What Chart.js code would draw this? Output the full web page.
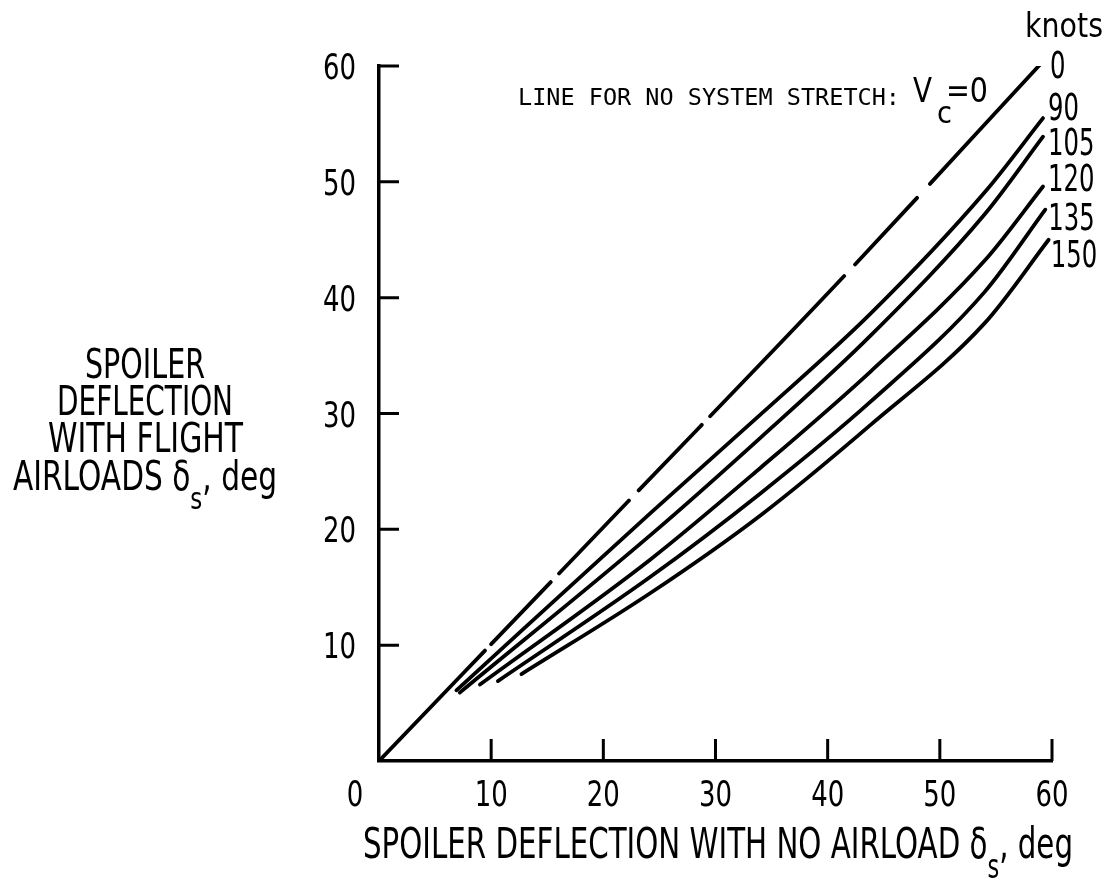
<!DOCTYPE html>
<html>
<head>
<meta charset="utf-8">
<script src="https://cdn.jsdelivr.net/npm/chart.js@4.4.1/dist/chart.umd.min.js"></script>
<style>
  html, body { margin: 0; background: #fff; }
  #wrap { width: 1111px; height: 879px; }
</style>
</head>
<body>
<div id="wrap"><canvas id="chart"></canvas></div>
<script>
// airspeed of each curve, knots
const speeds = ['0', '90', '105', '120', '135', '150'];

// spoiler deflection with no airload (x) and with flight airloads (y), deg
const noLoad0 = [0, 22.3, 41.5, 59.1];
const flight0 = [0, 22.5, 41.9, 60.3];

const noLoad90 = [6.9, 24.2, 34.0, 43.8, 54.0, 59.2];
const flight90 = [6.1, 21.4, 29.9, 38.6, 49.1, 55.5];

const noLoad105 = [7.2, 24.2, 34.0, 43.8, 54.0, 59.2];
const flight105 = [5.9, 19.5, 27.9, 36.7, 47.2, 53.9];

const noLoad120 = [9.0, 24.2, 34.0, 43.8, 54.0, 59.2];
const flight120 = [6.6, 17.4, 25.3, 33.6, 43.2, 49.6];

const noLoad135 = [10.6, 24.2, 34.0, 43.8, 54.0, 59.4];
const flight135 = [6.9, 15.9, 23.1, 31.0, 40.5, 47.6];

const noLoad150 = [12.7, 24.2, 34.0, 43.8, 54.0, 59.7];
const flight150 = [7.5, 14.5, 21.2, 29.0, 37.8, 45.0];

const axisTicks = [0, 10, 20, 30, 40, 50, 60];

const curves = [
  [noLoad0, flight0], [noLoad90, flight90], [noLoad105, flight105],
  [noLoad120, flight120], [noLoad135, flight135], [noLoad150, flight150]
];

const SANS = '"DejaVu Sans", sans-serif';
const font = size => `${size}px ${SANS}`;

// draws a run of text pieces [text, size, dy] squeezed to a given width
function drawRich(ctx, parts, left, baseline, width) {
  let natural = 0;
  parts.forEach(p => { ctx.font = font(p[1]); natural += ctx.measureText(p[0]).width; });
  const k = width ? width / natural : 1;
  ctx.save();
  ctx.translate(left, baseline);
  ctx.scale(k, 1);
  let cx = 0;
  parts.forEach(p => {
    ctx.font = font(p[1]);
    ctx.fillText(p[0], cx, p[2] || 0);
    cx += ctx.measureText(p[0]).width;
  });
  ctx.restore();
}

const DIGIT_W = 16.5;

// where each speed label sits relative to the end of its curve
const labelNudge = [[8, 15], [5, 2], [5, 18], [5, 5], [3, 20], [2, 27]];

const annotate = {
  id: 'annotate',
  afterDraw(chart) {
    const { ctx, chartArea: a, scales: { x, y } } = chart;
    ctx.save();

    // inward tick marks
    ctx.strokeStyle = '#000';
    ctx.lineWidth = 3;
    ctx.beginPath();
    x.ticks.forEach(t => {
      if (t.value === 0) return;
      const px = x.getPixelForValue(t.value);
      ctx.moveTo(px, a.bottom);
      ctx.lineTo(px, a.bottom - 22);
    });
    y.ticks.forEach(t => {
      if (t.value === 0) return;
      const py = y.getPixelForValue(t.value);
      ctx.moveTo(a.left, py);
      ctx.lineTo(a.left + 20, py);
    });
    ctx.stroke();

    ctx.fillStyle = '#000';
    ctx.textBaseline = 'alphabetic';
    ctx.textAlign = 'left';

    // tick labels in narrow lettering
    x.ticks.forEach(t => {
      const s = String(t.value);
      const w = s.length * DIGIT_W;
      const px = t.value === 0 ? a.left - 24 : x.getPixelForValue(t.value);
      drawRich(ctx, [[s, 36]], px - w / 2, a.bottom + 45, w);
    });
    y.ticks.forEach(t => {
      if (t.value === 0) return;
      const s = String(t.value);
      const w = s.length * DIGIT_W;
      drawRich(ctx, [[s, 36]], a.left - 23 - w, y.getPixelForValue(t.value) + 13, w);
    });

    // speed labels at the curve ends
    speeds.forEach((s, i) => {
      const pts = chart.getDatasetMeta(i).data;
      const end = pts[pts.length - 1];
      drawRich(ctx, [[s, 37]], end.x + labelNudge[i][0], end.y + labelNudge[i][1], s.length * 15.5);
    });
    drawRich(ctx, [['knots', 33]], 1025, 37, 78);

    // reference line note
    ctx.font = '23.5px "DejaVu Sans Mono", monospace';
    ctx.save();
    ctx.translate(518, 105);
    ctx.scale(382 / ctx.measureText('LINE FOR NO SYSTEM STRETCH:').width, 1);
    ctx.fillText('LINE FOR NO SYSTEM STRETCH:', 0, 0);
    ctx.restore();
    drawRich(ctx, [['V', 34]], 913, 102, 19);
    drawRich(ctx, [['c', 30]], 937, 123, 15);
    drawRich(ctx, [['=0', 34]], 946, 102, 42);

    // x axis title
    drawRich(ctx, [['SPOILER DEFLECTION WITH NO AIRLOAD δ', 43], ['s', 33, 20], [', deg', 43]],
      363, 858, 710);

    // y axis title, stacked horizontally
    const cx = 145;
    drawRich(ctx, [['SPOILER', 40]], cx - 60, 378, 120);
    drawRich(ctx, [['DEFLECTION', 40]], cx - 88, 415, 176);
    drawRich(ctx, [['WITH FLIGHT', 40]], cx - 97, 452, 195);
    drawRich(ctx, [['AIRLOADS δ', 40], ['s', 31, 19], [', deg', 40]], cx - 132, 490, 264);
    ctx.restore();
  }
};

const datasets = curves.map((c, i) => ({
  label: speeds[i],
  data: c[0].map((v, j) => ({ x: v, y: c[1][j] })),
  showLine: true,
  borderColor: '#000',
  borderWidth: 3.8,
  borderCapStyle: 'round',
  borderDash: i === 0 ? [153, 9, 86, 12, 101, 14, 91, 12, 194, 16, 91, 19, 300] : [],
  pointRadius: 0,
  cubicInterpolationMode: 'monotone',
  fill: false
}));

new Chart(document.getElementById('chart'), {
  type: 'scatter',
  data: { datasets },
  options: {
    responsive: true,
    maintainAspectRatio: false,
    animation: false,
    layout: { padding: { left: 0, right: 59, top: 66, bottom: 0 } },
    plugins: { legend: { display: false }, tooltip: { enabled: false } },
    scales: {
      x: {
        type: 'linear',
        min: 0, max: 60,
        afterBuildTicks: s => { s.ticks = axisTicks.map(v => ({ value: v })); },
        afterFit: s => { s.height = 118; },
        grid: { display: false, drawTicks: false },
        border: { display: true, color: '#000', width: 3.5 },
        ticks: { display: false }
      },
      y: {
        type: 'linear',
        min: 0, max: 60,
        afterBuildTicks: s => { s.ticks = axisTicks.map(v => ({ value: v })); },
        afterFit: s => { s.width = 379; },
        grid: { display: false, drawTicks: false },
        border: { display: true, color: '#000', width: 3.5 },
        ticks: { display: false }
      }
    }
  },
  plugins: [annotate]
});
</script>
</body>
</html>
